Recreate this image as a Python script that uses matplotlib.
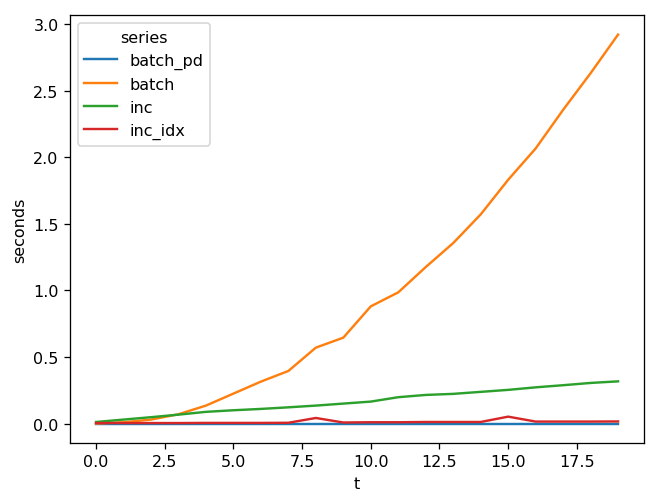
import matplotlib
matplotlib.use("Agg")
import matplotlib.pyplot as plt

t = list(range(20))
batch_pd = [0.0, 0.0, 0.0, 0.0, 0.0, 0.0, 0.0, 0.0, 0.0, 0.0,
            0.0, 0.0, 0.0, 0.0, 0.0, 0.0, 0.0, 0.0, 0.0, 0.0]
batch = [0.0, 0.01, 0.03, 0.07, 0.135, 0.225, 0.315, 0.395, 0.57, 0.645,
         0.88, 0.985, 1.175, 1.355, 1.57, 1.83, 2.065, 2.355, 2.63, 2.92]
inc = [0.012, 0.03, 0.048, 0.067, 0.088, 0.1, 0.11, 0.122, 0.135, 0.15,
       0.165, 0.198, 0.215, 0.223, 0.238, 0.253, 0.272, 0.288, 0.305, 0.317]
inc_idx = [0.004, 0.004, 0.004, 0.004, 0.005, 0.005, 0.005, 0.006, 0.042, 0.008,
           0.01, 0.01, 0.012, 0.012, 0.012, 0.052, 0.015, 0.015, 0.015, 0.016]

series = {"batch_pd": batch_pd, "batch": batch, "inc": inc, "inc_idx": inc_idx}

# reference looks like a default figure scaled up ~1.157x
dpi = 115.7
fig = plt.figure(figsize=(660 / dpi, 504 / dpi), dpi=dpi)
ax = fig.add_axes([0.106, 0.119, 0.870, 0.849])
for name, vals in series.items():
    ax.plot(t, vals, label=name)
ax.set_xlabel("t")
ax.set_ylabel("seconds")
ax.legend(title="series", loc="upper left")
fig.savefig("out.png", dpi=dpi)
